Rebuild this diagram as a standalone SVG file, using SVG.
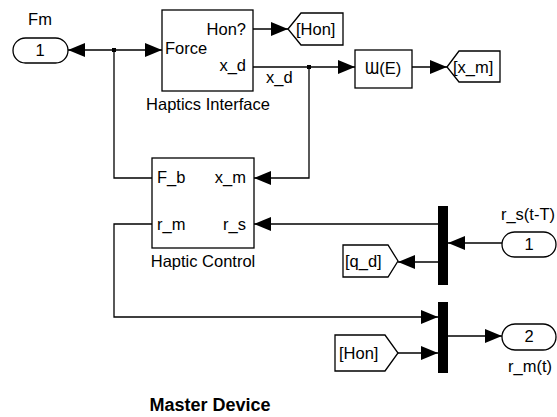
<svg xmlns="http://www.w3.org/2000/svg" width="557" height="417" viewBox="0 0 557 417">
<defs>
<marker id="arr" viewBox="0 0 17 14" refX="17" refY="7" markerWidth="17" markerHeight="14" markerUnits="userSpaceOnUse" orient="auto">
<path d="M0,0 L17,7 L0,14 Z" fill="#000"/>
</marker>
<style>
.blk{fill:#fff;stroke:#000;stroke-width:1.3}
.ln{fill:none;stroke:#000;stroke-width:1.3}
.t{font-family:"Liberation Sans",Arial,"DejaVu Sans",sans-serif;font-size:16.5px;fill:#000}
.m{text-anchor:middle}
.e{text-anchor:end}
.b{font-weight:bold;font-size:18px}
</style>
</defs>
<rect width="557" height="417" fill="#fff"/>

<g id="connectors">
<path class="ln" d="M152,178 H114 V50"/>
<path class="ln" d="M114,50 H68" marker-end="url(#arr)"/>
<path class="ln" d="M114,50 H162" marker-end="url(#arr)"/>
<rect x="112" y="48" width="4" height="4" fill="#000"/>
<path class="ln" d="M253,29 H288" marker-end="url(#arr)"/>
<path class="ln" d="M253,67 H355" marker-end="url(#arr)"/>
<path class="ln" d="M309,67 V178 H254" marker-end="url(#arr)"/>
<rect x="307" y="65" width="4" height="4" fill="#000"/>
<path class="ln" d="M412,67 H447" marker-end="url(#arr)"/>
<path class="ln" d="M438,224 H254" marker-end="url(#arr)"/>
<path class="ln" d="M502,243 H448" marker-end="url(#arr)"/>
<path class="ln" d="M438,262 H398" marker-end="url(#arr)"/>
<path class="ln" d="M152,224 H114 V317 H438" marker-end="url(#arr)"/>
<path class="ln" d="M398,353 H438" marker-end="url(#arr)"/>
<path class="ln" d="M448,336 H502" marker-end="url(#arr)"/>
<text class="t" x="266" y="83">x_d</text>
</g>

<g id="inport-Fm">
<rect class="blk" x="13" y="38" width="55" height="25" rx="12.5"/>
<text class="t m" x="40" y="56">1</text>
<text class="t m" x="40" y="25">Fm</text>
</g>

<g id="haptics-interface">
<rect class="blk" x="162" y="10" width="91" height="81"/>
<text class="t e" x="246" y="35">Hon?</text>
<text class="t" x="165" y="54">Force</text>
<text class="t e" x="246" y="71">x_d</text>
<text class="t m" x="208" y="110">Haptics Interface</text>
</g>

<g id="goto-Hon">
<polygon class="blk" points="288,29 301,13 343,13 343,45 301,45"/>
<text class="t" x="296" y="35">[Hon]</text>
</g>

<g id="WE">
<rect class="blk" x="355" y="50" width="57" height="38"/>
<text class="t m" x="383" y="74">Ɯ(E)</text>
</g>

<g id="goto-x_m">
<polygon class="blk" points="447,67 459,51 500,51 500,82 459,82"/>
<text class="t" x="453" y="73">[x_m]</text>
</g>

<g id="haptic-control">
<rect class="blk" x="152" y="158" width="102" height="90"/>
<text class="t" x="157" y="183">F_b</text>
<text class="t e" x="246" y="183">x_m</text>
<text class="t" x="157" y="230">r_m</text>
<text class="t e" x="246" y="230">r_s</text>
<text class="t m" x="203" y="267">Haptic Control</text>
</g>

<g id="demux">
<rect x="438" y="206" width="10" height="79" fill="#000"/>
</g>

<g id="inport-rs">
<rect class="blk" x="502" y="232" width="54" height="25" rx="12.5"/>
<text class="t m" x="529" y="250">1</text>
<text class="t m" x="528" y="220">r_s(t-T)</text>
</g>

<g id="from-q_d">
<polygon class="blk" points="343,245 388,245 398,261 388,277 343,277"/>
<text class="t" x="345" y="267">[q_d]</text>
</g>

<g id="mux">
<rect x="438" y="302" width="10" height="71" fill="#000"/>
</g>

<g id="from-Hon">
<polygon class="blk" points="335,335 385,335 398,353 385,371 335,371"/>
<text class="t" x="339" y="359">[Hon]</text>
</g>

<g id="outport-rm">
<rect class="blk" x="502" y="324" width="54" height="26" rx="13"/>
<text class="t m" x="529" y="342">2</text>
<text class="t m" x="530" y="372">r_m(t)</text>
</g>

<text class="t m b" x="210" y="411">Master Device</text>
</svg>
